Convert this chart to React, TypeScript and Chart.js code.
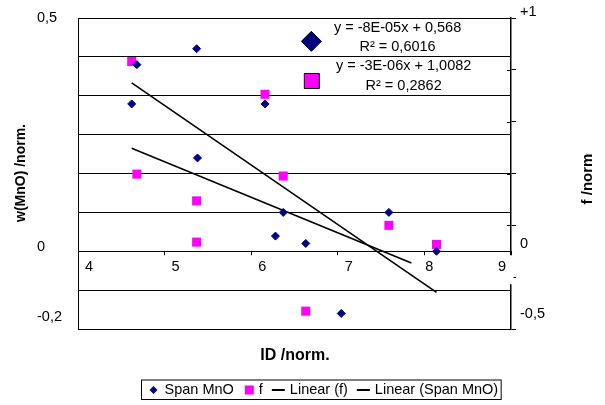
import React, { useEffect, useRef } from "react";
import { Chart, registerables } from "chart.js";

Chart.register(...registerables);

// ---- data ----
const spanX = [4.68, 4.62, 5.37, 5.38, 6.16, 6.37, 6.28, 6.63, 7.59, 7.04, 8.14];
const spanY = [0.48, 0.379, 0.521, 0.24, 0.379, 0.1, 0.039, 0.02, 0.1, -0.16, 0.0];
const fX = [4.62, 4.68, 5.37, 5.37, 6.16, 6.37, 6.63, 7.59, 8.14];
const fY = [0.79, 0.247, 0.118, -0.081, 0.632, 0.238, -0.414, 0.0, -0.092];
const trendSpanX = [4.62, 8.14];
const trendSpanY = [0.433, -0.106];
const trendFX = [4.62, 7.85];
const trendFY = [0.372, -0.182];

const xTickValues = [4, 5, 6, 7, 8, 9];
const leftLabels = ["0,5", "0", "-0,2"];
const leftLabelAt = [0.6, 0.01, -0.17];
const rightLabels = ["+1", "0", "-0,5"];
const rightLabelAt = [1.03, -0.09, -0.43];

const eqTexts = ["y = -8E-05x + 0,568", "R² = 0,6016", "y = -3E-06x + 1,0082", "R² = 0,2862"];
const eqX = [7.69, 7.69, 7.76, 7.76];
const eqY = [0.575, 0.526, 0.476, 0.424];
const keyX = [6.695, 6.7];
const keyY = [0.54, 0.438];

const legendItems = ["Span MnO", "f", "Linear (f)", "Linear (Span MnO)"];

const NAVY = "#000080";
const PINK = "#FF00FF";
const FONT = '"Liberation Sans", Arial, sans-serif';

const pts = (xs: number[], ys: number[]) => xs.map((x, i) => ({ x, y: ys[i] }));

const decorPlugin = {
  id: "decor",
  beforeDatasetsDraw(chart: any) {
    const { ctx, chartArea, scales } = chart;
    const zero = scales.y.getPixelForValue(0);
    ctx.save();
    // inward half of the right-axis cross ticks
    ctx.strokeStyle = "#000";
    ctx.lineWidth = 1;
    scales.y1.ticks.forEach((t: any) => {
      const py = Math.round(scales.y1.getPixelForValue(t.value)) + 0.5;
      ctx.beginPath();
      ctx.moveTo(chartArea.right - 4, py);
      ctx.lineTo(chartArea.right, py);
      ctx.stroke();
    });
    // white band behind x-axis labels
    ctx.fillStyle = "#fff";
    ctx.fillRect(chartArea.left + 1, zero + 4, chartArea.right - chartArea.left + 1.5, 29);
    // x tick labels
    ctx.fillStyle = "#000";
    ctx.font = `14.5px ${FONT}`;
    ctx.textAlign = "center";
    ctx.textBaseline = "middle";
    xTickValues.forEach((v, i) => {
      const last = i === xTickValues.length - 1;
      const px = last
        ? scales.x.getPixelForValue(v) - 9
        : scales.x.getPixelForValue(v) + 11 - (i === xTickValues.length - 2 ? 6 : 0);
      ctx.fillText(String(v), px, zero + 16);
    });
    ctx.restore();
  },
  afterDraw(chart: any) {
    const { ctx, chartArea, scales } = chart;
    ctx.save();
    ctx.fillStyle = "#000";
    ctx.textBaseline = "middle";
    ctx.font = `14.5px ${FONT}`;
    // left axis labels
    ctx.textAlign = "left";
    leftLabels.forEach((t, i) => ctx.fillText(t, 37, scales.y.getPixelForValue(leftLabelAt[i])));
    // right axis labels
    rightLabels.forEach((t, i) =>
      ctx.fillText(t, chartArea.right + 9, scales.y1.getPixelForValue(rightLabelAt[i]))
    );
    // trendline equations
    ctx.textAlign = "center";
    eqTexts.forEach((t, i) =>
      ctx.fillText(t, scales.x.getPixelForValue(eqX[i]), scales.y.getPixelForValue(eqY[i]))
    );
    // axis titles
    ctx.font = `bold 16px ${FONT}`;
    ctx.fillText("ID /norm.", 295, 356);
    ctx.save();
    ctx.translate(21, 173);
    ctx.rotate(-Math.PI / 2);
    ctx.font = `bold 14px ${FONT}`;
    ctx.fillText("w(MnO) /norm.", 0, 0);
    ctx.restore();
    ctx.save();
    ctx.translate(588, 179);
    ctx.rotate(-Math.PI / 2);
    ctx.font = `bold 15px ${FONT}`;
    ctx.fillText("f /norm", 0, 0);
    ctx.restore();

    // legend
    const boxL = 141.5, boxT = 380, boxB = 399.5, cy = 390;
    ctx.font = `14.5px ${FONT}`;
    ctx.textAlign = "left";
    let x = boxL + 6;
    legendItems.forEach((t, i) => {
      if (i === 0) {
        const cx = x + 6, r = 4;
        ctx.fillStyle = NAVY;
        ctx.beginPath();
        ctx.moveTo(cx, cy - r);
        ctx.lineTo(cx + r, cy);
        ctx.lineTo(cx, cy + r);
        ctx.lineTo(cx - r, cy);
        ctx.closePath();
        ctx.fill();
        x += 17;
      } else if (i === 1) {
        ctx.fillStyle = PINK;
        ctx.fillRect(x + 2, cy - 4.5, 9, 9);
        x += 16;
      } else {
        ctx.strokeStyle = "#000";
        ctx.lineWidth = 2;
        ctx.beginPath();
        ctx.moveTo(x, cy);
        ctx.lineTo(x + 13, cy);
        ctx.stroke();
        x += 18;
      }
      ctx.fillStyle = "#000";
      ctx.fillText(t, x, cy);
      x += ctx.measureText(t).width + 9;
    });
    ctx.strokeStyle = "#000";
    ctx.lineWidth = 1;
    ctx.strokeRect(boxL, boxT, x - boxL - 6, boxB - boxT);
    ctx.restore();
  },
};

export default function App() {
  const ref = useRef<HTMLCanvasElement>(null);
  useEffect(() => {
    if (!ref.current) return;
    const chart = new Chart(ref.current, {
      type: "scatter",
      data: {
        datasets: [
          {
            label: "Span MnO",
            data: pts(spanX, spanY),
            yAxisID: "y",
            pointStyle: "rectRot",
            pointRadius: 4,
            backgroundColor: NAVY,
            borderColor: NAVY,
            borderWidth: 1,
          },
          {
            label: "f",
            data: pts(fX, fY),
            yAxisID: "y1",
            pointStyle: "rect",
            pointRadius: 6.4,
            backgroundColor: PINK,
            borderColor: PINK,
            borderWidth: 0,
          },
          {
            label: "Linear (f)",
            data: pts(trendFX, trendFY),
            yAxisID: "y1",
            showLine: true,
            pointRadius: 0,
            borderColor: "#000",
            borderWidth: 1.6,
          },
          {
            label: "Linear (Span MnO)",
            data: pts(trendSpanX, trendSpanY),
            yAxisID: "y",
            showLine: true,
            pointRadius: 0,
            borderColor: "#000",
            borderWidth: 1.6,
          },
          {
            label: "key MnO",
            data: [{ x: keyX[0], y: keyY[0] }],
            yAxisID: "y",
            pointStyle: "rectRot",
            pointRadius: 10,
            backgroundColor: NAVY,
            borderColor: "#000",
            borderWidth: 1,
          },
          {
            label: "key f",
            data: [{ x: keyX[1], y: keyY[1] }],
            yAxisID: "y",
            pointStyle: "rect",
            pointRadius: 10.6,
            backgroundColor: PINK,
            borderColor: "#000",
            borderWidth: 1,
          },
        ],
      },
      options: {
        animation: false,
        responsive: false,
        layout: { padding: { top: 18, bottom: 76, left: 0, right: 0 } },
        plugins: { legend: { display: false }, tooltip: { enabled: false } },
        scales: {
          x: {
            type: "linear",
            min: 4,
            max: 9,
            position: { y: 0 } as any,
            ticks: { display: false, stepSize: 1 },
            grid: { drawOnChartArea: false, drawTicks: true, tickLength: 4, color: "#000" },
            border: { display: true, color: "#000", width: 1 },
          },
          y: {
            type: "linear",
            position: "left",
            min: -0.2,
            max: 0.6,
            ticks: { display: false, stepSize: 0.1 },
            grid: { color: "#000", drawTicks: false, lineWidth: 1 },
            border: { display: true, color: "#000", width: 1 },
            afterFit: (s: any) => {
              s.width = 78;
            },
          },
          y1: {
            type: "linear",
            position: "right",
            min: -0.5,
            max: 1,
            ticks: { display: false, stepSize: 0.25 },
            grid: { drawOnChartArea: false, drawTicks: true, tickLength: 5, color: "#000" },
            border: { display: true, color: "#000", width: 1.5 },
            afterFit: (s: any) => {
              s.width = 94;
            },
          },
        },
      },
      plugins: [decorPlugin],
    });
    return () => chart.destroy();
  }, []);
  return (
    <div style={{ position: "fixed", left: 0, top: 0, width: 605, height: 405, background: "#fff" }}>
      <canvas ref={ref} width={605} height={405} style={{ display: "block" }} />
    </div>
  );
}
